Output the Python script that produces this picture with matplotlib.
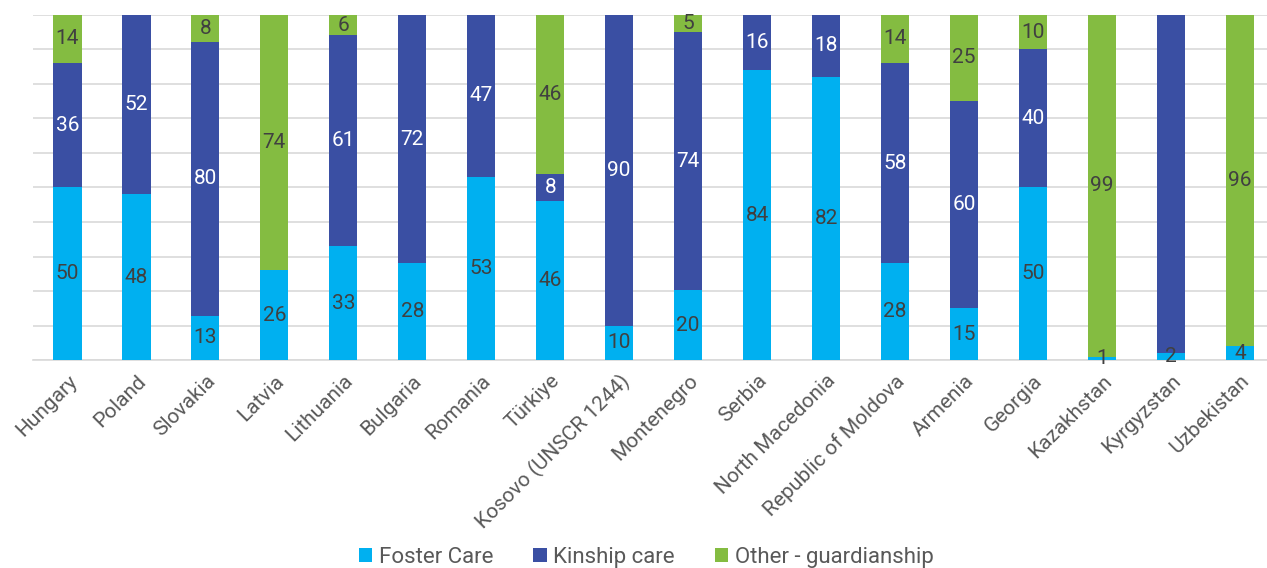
import numpy as np
import matplotlib.pyplot as plt

plt.rcParams['font.family'] = ['Roboto', 'DejaVu Sans']

countries = ['Hungary', 'Poland', 'Slovakia', 'Latvia', 'Lithuania', 'Bulgaria',
             'Romania', 'Türkiye', 'Kosovo (UNSCR 1244)', 'Montenegro', 'Serbia',
             'North Macedonia', 'Republic of Moldova', 'Armenia', 'Georgia',
             'Kazakhstan', 'Kyrgyzstan', 'Uzbekistan']
foster = [50, 48, 13, 26, 33, 28, 53, 46, 10, 20, 84, 82, 28, 15, 50, 1, 2, 4]
kinship = [36, 52, 80, 0, 61, 72, 47, 8, 90, 74, 16, 18, 58, 60, 40, 0, 98, 0]
other = [14, 0, 8, 74, 6, 0, 0, 46, 0, 5, 0, 0, 14, 25, 10, 99, 0, 96]
# Kyrgyzstan kinship value has no label in the source
hidden_labels = [('Kinship care', 'Kyrgyzstan')]

series = [('Foster Care', foster, '#00B0F0', '#404040'),
          ('Kinship care', kinship, '#3A4FA3', 'white'),
          ('Other - guardianship', other, '#84BC41', '#404040')]

totals = np.array(foster) + np.array(kinship) + np.array(other)
x = np.arange(len(countries))

fig = plt.figure(figsize=(12.67, 5.68), dpi=100)
ax = fig.add_axes([0.026, 0.366, 0.976, 0.608])

bottom = np.zeros(len(countries))
for name, vals, color, tcolor in series:
    share = np.array(vals) / totals * 100
    ax.bar(x, share, 0.41, bottom=bottom, color=color, label=name, zorder=3)
    for i, v in enumerate(vals):
        if v > 0 and (name, countries[i]) not in hidden_labels:
            ax.text(x[i], bottom[i] + share[i] / 2, str(v), ha='center', va='center',
                    color=tcolor, fontsize=15, zorder=4)
    bottom += share

ax.set_ylim(0, 100)
ax.set_xlim(-0.5, 17.43)
ax.set_yticks(np.arange(0, 101, 10))
ax.set_yticklabels([])
ax.tick_params(axis='y', length=0)
ax.grid(axis='y', color='#D9D9D9', linewidth=1.2, zorder=0)
for s in ['top', 'right', 'left']:
    ax.spines[s].set_visible(False)
ax.spines['bottom'].set_color('#D9D9D9')
ax.spines['bottom'].set_linewidth(1.2)

ax.set_xticks(x)
ax.set_xticklabels(countries, rotation=45, ha='right', rotation_mode='anchor',
                   fontsize=15, color='#595959')
ax.tick_params(axis='x', length=0, pad=8)

fig.legend(loc='lower center', bbox_to_anchor=(0.51, -0.035), ncol=3, frameon=False,
           fontsize=16, labelcolor='#595959', handlelength=0.6, handleheight=0.6,
           handletextpad=0.3, columnspacing=1.8)

fig.savefig('out.png', dpi=100)
